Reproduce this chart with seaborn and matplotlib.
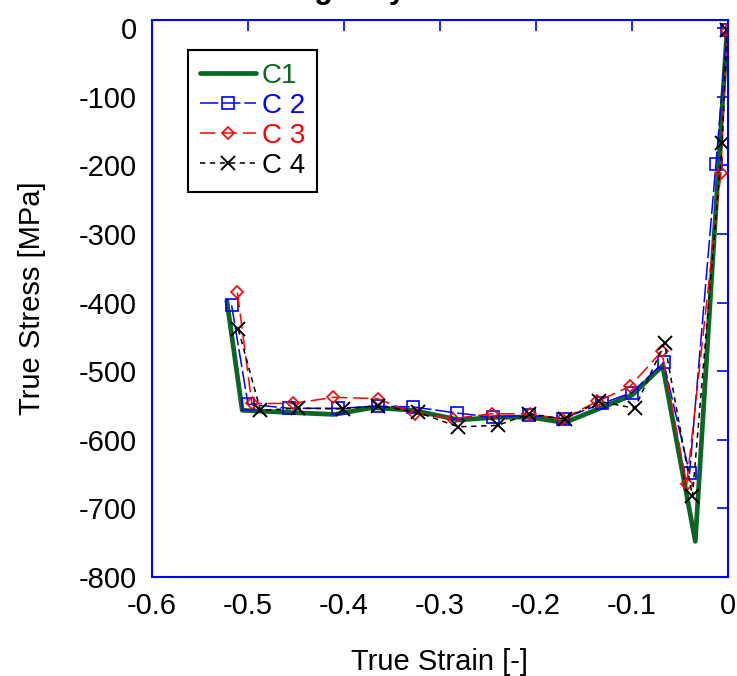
import matplotlib
matplotlib.use("Agg")
import matplotlib.pyplot as plt
import seaborn as sns

c1_strain = [-0.522, -0.506, -0.41, -0.37, -0.328, -0.28, -0.24, -0.206, -0.17, -0.10, -0.068, -0.034, -0.001]
c1_stress = [-397, -557, -563, -553, -557, -571, -567, -567, -575, -535, -492, -748, -3]

c2_strain = [-0.517, -0.50, -0.457, -0.406, -0.365, -0.328, -0.282, -0.245, -0.207, -0.172, -0.131, -0.10, -0.067, -0.04, -0.0125, -0.001]
c2_stress = [-404, -548, -554, -554, -551, -552, -561, -567, -564, -569, -547, -531, -487, -649, -198, -3]

c3_strain = [-0.511, -0.496, -0.453, -0.411, -0.365, -0.326, -0.286, -0.246, -0.206, -0.173, -0.136, -0.102, -0.069, -0.043, -0.0073, -0.001]
c3_stress = [-385, -547, -547, -538, -540, -562, -569, -562, -562, -570, -544, -522, -471, -665, -211, -4]

c4_strain = [-0.51, -0.487, -0.448, -0.401, -0.365, -0.323, -0.281, -0.24, -0.207, -0.17, -0.134, -0.097, -0.066, -0.037, -0.006, -0.001]
c4_stress = [-439, -557, -554, -555, -550, -560, -581, -579, -562, -570, -544, -554, -459, -682, -168, -3]

etiquetas = ["C1", "C 2", "C 3", "C 4"]
colores = ["#0b6623", "#0000ff", "#ff0000", "#000000"]
x_ticks = [-0.6, -0.5, -0.4, -0.3, -0.2, -0.1, 0]
x_labels = ["-0.6", "-0.5", "-0.4", "-0.3", "-0.2", "-0.1", "0"]
y_ticks = [-800, -700, -600, -500, -400, -300, -200, -100, 0]
y_labels = ["-800", "-700", "-600", "-500", "-400", "-300", "-200", "-100", "0"]

sns.set_style("white")
plt.rcParams["font.family"] = ["Liberation Sans", "DejaVu Sans"]
plt.rcParams["axes.unicode_minus"] = False
plt.rcParams["text.color"] = "black"
plt.rcParams["axes.labelcolor"] = "black"

fig = plt.figure(figsize=(7.37, 6.76), dpi=100)
ax = fig.add_axes([0.2062, 0.1464, 0.7815, 0.824])

# C1 linea gruesa continua
sns.lineplot(x=c1_strain, y=c1_stress, sort=False, estimator=None, color=colores[0],
             lw=3.4, label=etiquetas[0], ax=ax)
# C2 cuadrados azules
sns.lineplot(x=c2_strain, y=c2_stress, sort=False, estimator=None, color=colores[1],
             lw=1.1, marker="s", ms=8.5, mfc="none", mec=colores[1], mew=1.2,
             label=etiquetas[1], ax=ax)
ax.lines[-1].set_dashes((12, 2.5))
# C3 rombos rojos
sns.lineplot(x=c3_strain, y=c3_stress, sort=False, estimator=None, color=colores[2],
             lw=1.1, marker="D", ms=6.5, mfc="none", mec=colores[2], mew=1.2,
             label=etiquetas[2], ax=ax)
ax.lines[-1].set_dashes((10, 4))
# C4 cruces negras
sns.lineplot(x=c4_strain, y=c4_stress, sort=False, estimator=None, color=colores[3],
             lw=1.1, marker="x", ms=10, mec=colores[3], mew=1.4,
             label=etiquetas[3], ax=ax)
ax.lines[-1].set_dashes((3.5, 3))

ax.set_xlim(-0.6, 0)
ax.set_ylim(-800, 12)
ax.set_xticks(x_ticks)
ax.set_xticklabels(x_labels)
ax.set_yticks(y_ticks)
ax.set_yticklabels(y_labels)

for sp in ax.spines.values():
    sp.set_color("#0000ff")
    sp.set_linewidth(1.5)
ax.tick_params(direction="in", length=8, width=1.2, color="#0000ff", top=True, right=True,
               labelsize=21, pad=11, labelcolor="black")

ax.set_xlabel("True Strain [-]", fontsize=21)
ax.xaxis.set_label_coords(0.5, -0.127)
ax.set_ylabel("True Stress [MPa]", fontsize=21)
ax.yaxis.set_label_coords(-0.184, 0.5)

leg = ax.legend(loc="upper left", bbox_to_anchor=(0.0625, 0.946), borderaxespad=0,
                fontsize=20, frameon=True, fancybox=False, edgecolor="black",
                framealpha=1, handlelength=2.0, handletextpad=0.2, labelspacing=0.15,
                borderpad=0.45, numpoints=1)
leg.get_frame().set_linewidth(1.5)
for txt, c in zip(leg.get_texts(), colores):
    txt.set_color(c)

# titulo cortado en la parte superior, igual que en la imagen original
fig.text(0.437, 1.0 + 2 / 676, "Yield Strength by Case", ha="center", va="baseline",
         fontsize=22, fontweight="bold")

fig.savefig("out.png", dpi=100)
